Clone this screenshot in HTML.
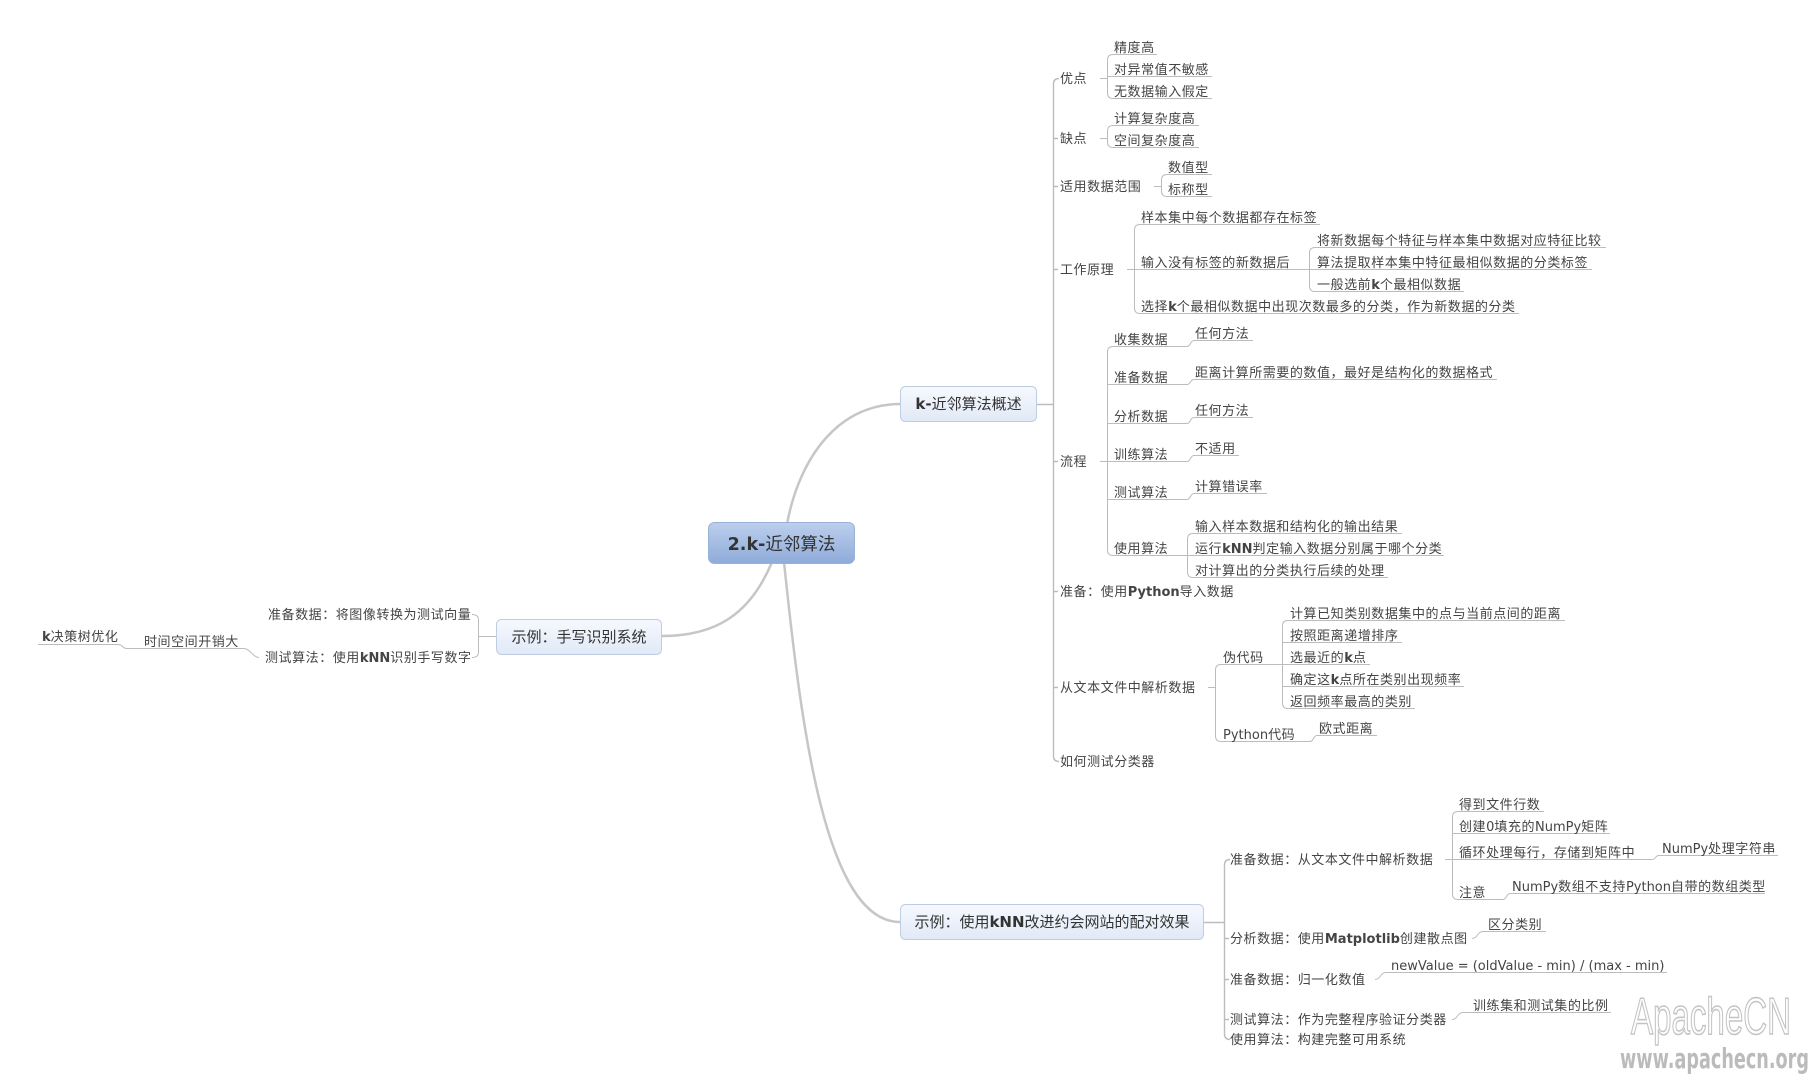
<!DOCTYPE html>
<html><head><meta charset="utf-8">
<style>
html,body{margin:0;padding:0;background:#fff;}
svg{display:block;}
.t{font-family:"DejaVu Sans","Noto Sans CJK SC",sans-serif;font-size:13px;fill:#444;letter-spacing:0.55px;}
.b{font-family:"DejaVu Sans","Noto Sans CJK SC",sans-serif;font-weight:bold;letter-spacing:0;}
.l{font-family:"DejaVu Sans","Noto Sans CJK SC",sans-serif;letter-spacing:0;}
.bx{font-family:"DejaVu Sans","Noto Sans CJK SC",sans-serif;font-size:15px;fill:#333;}
.ln{stroke:#bcbcbc;stroke-width:1;fill:none;}
.mc{stroke:#c6c6c6;stroke-width:2.5;fill:none;}
</style></head>
<body>
<svg width="1815" height="1085" viewBox="0 0 1815 1085" xmlns="http://www.w3.org/2000/svg">
<defs>
<linearGradient id="gc" x1="0" y1="0" x2="0" y2="1">
<stop offset="0" stop-color="#bccfec"/><stop offset="1" stop-color="#8fabda"/>
</linearGradient>
<linearGradient id="gb" x1="0" y1="0" x2="0" y2="1">
<stop offset="0" stop-color="#f6f9fe"/><stop offset="1" stop-color="#e1e9f7"/>
</linearGradient>
</defs>
<rect width="1815" height="1085" fill="#fff"/>

<!-- main curves -->
<path class="mc" d="M787,524 C800,455 840,404 900,404"/>
<path class="mc" d="M772,562 C750,615 715,636 662,636"/>
<path class="mc" d="M784,562 C801,725 825,922 900,922"/>

<!-- central node -->
<rect x="708.5" y="522.5" width="146" height="41" rx="6" fill="url(#gc)" stroke="#9ab1d8"/>
<text x="781.5" y="550" text-anchor="middle" style="font-family:'DejaVu Sans','Noto Sans CJK SC',sans-serif;font-size:17.5px;fill:#333;"><tspan font-weight="bold">2.k-</tspan>近邻算法</text>

<!-- branch boxes -->
<rect x="900.5" y="386.5" width="136" height="35" rx="5" fill="url(#gb)" stroke="#bfcde2"/>
<text class="bx" x="968.5" y="409" text-anchor="middle"><tspan font-weight="bold">k-</tspan>近邻算法概述</text>

<rect x="900.5" y="904.5" width="303" height="35" rx="5" fill="url(#gb)" stroke="#bfcde2"/>
<text class="bx" x="1052" y="927" text-anchor="middle">示例：使用<tspan font-weight="bold">kNN</tspan>改进约会网站的配对效果</text>

<rect x="496.5" y="619.5" width="165" height="35" rx="5" fill="url(#gb)" stroke="#bfcde2"/>
<text class="bx" x="579" y="642" text-anchor="middle">示例：手写识别系统</text>

<!-- ===== k-branch lines ===== -->
<path class="ln" style="stroke-width:1.4" d="M1037,404.5 H1053.5 M1059,78.5 Q1053.5,78.5 1053.5,84 V756 Q1053.5,761.5 1059,761.5 M1053.5,138.5 H1058 M1053.5,186.5 H1058 M1053.5,269.5 H1058 M1053.5,461.5 H1058 M1053.5,591.5 H1058 M1053.5,687.5 H1058"/>
<!-- 优点 -->
<path class="ln" d="M1100,78.5 H1107.5 M1107.5,60 Q1107.5,54.5 1113,54.5 H1157 M1107.5,60 V93 Q1107.5,98.5 1113,98.5 H1212 M1107.5,76.5 H1212"/>
<!-- 缺点 -->
<path class="ln" d="M1100,138.5 H1107.5 M1107.5,131 Q1107.5,125.5 1113,125.5 H1199 M1107.5,131 V142 Q1107.5,147.5 1113,147.5 H1199"/>
<!-- 适用数据范围 -->
<path class="ln" d="M1154,186.5 H1161.5 M1161.5,180 Q1161.5,174.5 1167,174.5 H1212 M1161.5,180 V191 Q1161.5,196.5 1167,196.5 H1212"/>
<!-- 工作原理 -->
<path class="ln" d="M1127,269.5 H1134.5 M1134.5,230 Q1134.5,224.5 1140,224.5 H1320 M1134.5,230 V308 Q1134.5,313.5 1140,313.5 H1519 M1134.5,269.5 H1309.5 M1309.5,253 Q1309.5,247.5 1315,247.5 H1606 M1309.5,253 V286 Q1309.5,291.5 1315,291.5 H1464 M1309.5,269.5 H1592"/>
<!-- 流程 -->
<path class="ln" d="M1100,461.5 H1107.5 M1107.5,352 Q1107.5,346.5 1113,346.5 H1187 M1107.5,352 V550 Q1107.5,555.5 1113,555.5 H1187 M1107.5,384.5 H1187 M1107.5,423.5 H1187 M1107.5,461.5 H1187 M1107.5,499.5 H1187
M1187,346.5 C1191,346.5 1190,340.5 1194,340.5 H1253
M1187,384.5 C1191,384.5 1190,379.5 1194,379.5 H1497
M1187,423.5 C1191,423.5 1190,417.5 1194,417.5 H1253
M1187,461.5 C1191,461.5 1190,455.5 1194,455.5 H1239
M1187,499.5 C1191,499.5 1190,493.5 1194,493.5 H1267
M1187.5,539 Q1187.5,533.5 1193,533.5 H1402 M1187.5,539 V572 Q1187.5,577.5 1193,577.5 H1388 M1187.5,555.5 H1444"/>
<!-- 从文本文件中解析数据 -->
<path class="ln" d="M1208,687.5 H1215.5 M1215.5,670 Q1215.5,664.5 1221,664.5 H1282.5 M1215.5,670 V736 Q1215.5,741.5 1221,741.5 H1310
M1310,741.5 C1314,741.5 1313,735.5 1317,735.5 H1377
M1282.5,626 Q1282.5,620.5 1288,620.5 H1565 M1282.5,626 V703 Q1282.5,708.5 1288,708.5 H1415 M1282.5,642.5 H1402 M1282.5,664.5 H1370 M1282.5,686.5 H1464"/>

<!-- ===== bottom branch lines ===== -->
<path class="ln" style="stroke-width:1.4" d="M1204,922.5 H1224.5 M1230,859.5 Q1224.5,859.5 1224.5,865 V1034 Q1224.5,1039.5 1230,1039.5 M1224.5,938.5 H1229 M1224.5,979.5 H1229 M1224.5,1019.5 H1229"/>
<path class="ln" d="M1445,859.5 H1452.5 M1452.5,817 Q1452.5,811.5 1458,811.5 H1544 M1452.5,817 V894 Q1452.5,899.5 1458,899.5 H1503 M1452.5,833.5 H1610 M1452.5,859.5 H1652
M1652,859.5 C1656,859.5 1655,855.5 1659,855.5 H1778
M1503,899.5 C1507,899.5 1506,893.5 1510,893.5 H1765
M1472,938.5 C1478,938.5 1477,931.5 1483,931.5 H1546
M1375,979.5 C1381,979.5 1380,972.5 1386,972.5 H1667
M1452,1019.5 C1458,1019.5 1457,1012.5 1463,1012.5 H1611"/>

<!-- ===== left branch lines ===== -->
<path class="ln" d="M496,636.5 H478.5 M472,614.5 Q478.5,614.5 478.5,620 V652 Q478.5,657.5 472,657.5
M259,657.5 C253,657.5 250,648.5 244,648.5 H127 C122,648.5 123,644.5 118,644.5 H38"/>

<!-- ===== k-branch texts ===== -->
<text class="t" x="1060" y="83">优点</text>
<text class="t" x="1060" y="143">缺点</text>
<text class="t" x="1060" y="191">适用数据范围</text>
<text class="t" x="1060" y="274">工作原理</text>
<text class="t" x="1060" y="466">流程</text>
<text class="t" x="1060" y="596">准备：使用<tspan class="b">Python</tspan>导入数据</text>
<text class="t" x="1060" y="692">从文本文件中解析数据</text>
<text class="t" x="1060" y="766">如何测试分类器</text>

<text class="t" x="1114" y="52">精度高</text>
<text class="t" x="1114" y="74">对异常值不敏感</text>
<text class="t" x="1114" y="96">无数据输入假定</text>
<text class="t" x="1114" y="123">计算复杂度高</text>
<text class="t" x="1114" y="145">空间复杂度高</text>
<text class="t" x="1168" y="172">数值型</text>
<text class="t" x="1168" y="194">标称型</text>
<text class="t" x="1141" y="222">样本集中每个数据都存在标签</text>
<text class="t" x="1141" y="267">输入没有标签的新数据后</text>
<text class="t" x="1141" y="311">选择<tspan class="b">k</tspan>个最相似数据中出现次数最多的分类，作为新数据的分类</text>
<text class="t" x="1317" y="245">将新数据每个特征与样本集中数据对应特征比较</text>
<text class="t" x="1317" y="267">算法提取样本集中特征最相似数据的分类标签</text>
<text class="t" x="1317" y="289">一般选前<tspan class="b">k</tspan>个最相似数据</text>

<text class="t" x="1114" y="344">收集数据</text>
<text class="t" x="1114" y="382">准备数据</text>
<text class="t" x="1114" y="421">分析数据</text>
<text class="t" x="1114" y="459">训练算法</text>
<text class="t" x="1114" y="497">测试算法</text>
<text class="t" x="1114" y="553">使用算法</text>
<text class="t" x="1195" y="338">任何方法</text>
<text class="t" x="1195" y="377">距离计算所需要的数值，最好是结构化的数据格式</text>
<text class="t" x="1195" y="415">任何方法</text>
<text class="t" x="1195" y="453">不适用</text>
<text class="t" x="1195" y="491">计算错误率</text>
<text class="t" x="1195" y="531">输入样本数据和结构化的输出结果</text>
<text class="t" x="1195" y="553">运行<tspan class="b">kNN</tspan>判定输入数据分别属于哪个分类</text>
<text class="t" x="1195" y="575">对计算出的分类执行后续的处理</text>

<text class="t" x="1223" y="662">伪代码</text>
<text class="t" x="1223" y="739"><tspan class="l">Python</tspan>代码</text>
<text class="t" x="1290" y="618">计算已知类别数据集中的点与当前点间的距离</text>
<text class="t" x="1290" y="640">按照距离递增排序</text>
<text class="t" x="1290" y="662">选最近的<tspan class="b">k</tspan>点</text>
<text class="t" x="1290" y="684">确定这<tspan class="b">k</tspan>点所在类别出现频率</text>
<text class="t" x="1290" y="706">返回频率最高的类别</text>
<text class="t" x="1319" y="733">欧式距离</text>

<!-- ===== bottom branch texts ===== -->
<text class="t" x="1230" y="864">准备数据：从文本文件中解析数据</text>
<text class="t" x="1230" y="943">分析数据：使用<tspan class="b">Matplotlib</tspan>创建散点图</text>
<text class="t" x="1230" y="984">准备数据：归一化数值</text>
<text class="t" x="1230" y="1024">测试算法：作为完整程序验证分类器</text>
<text class="t" x="1230" y="1044">使用算法：构建完整可用系统</text>

<text class="t" x="1459" y="809">得到文件行数</text>
<text class="t" x="1459" y="831">创建<tspan class="l">0</tspan>填充的<tspan class="l">NumPy</tspan>矩阵</text>
<text class="t" x="1459" y="857">循环处理每行，存储到矩阵中</text>
<text class="t" x="1459" y="897">注意</text>
<text class="t" x="1662" y="853"><tspan class="l">NumPy</tspan>处理字符串</text>
<text class="t" x="1512" y="891"><tspan class="l">NumPy</tspan>数组不支持<tspan class="l">Python</tspan>自带的数组类型</text>
<text class="t" x="1488" y="929">区分类别</text>
<text class="t" x="1391" y="970"><tspan class="l">newValue = (oldValue - min) / (max - min)</tspan></text>
<text class="t" x="1473" y="1010">训练集和测试集的比例</text>

<!-- ===== left branch texts ===== -->
<text class="t" x="268" y="619">准备数据：将图像转换为测试向量</text>
<text class="t" x="265" y="662">测试算法：使用<tspan class="b">kNN</tspan>识别手写数字</text>
<text class="t" x="144" y="646">时间空间开销大</text>
<text class="t" x="42" y="641"><tspan class="b">k</tspan>决策树优化</text>

<!-- watermark -->
<text x="1631" y="1034" font-family="Liberation Sans, sans-serif" font-size="52" fill="#ffffff" stroke="#c4c4c4" stroke-width="1.6" textLength="160" lengthAdjust="spacingAndGlyphs">ApacheCN</text>
<text x="1620" y="1068" font-family="DejaVu Sans, sans-serif" font-weight="bold" font-size="28" fill="#bbbbbb" textLength="189" lengthAdjust="spacingAndGlyphs">www.apachecn.org</text>
</svg>
</body></html>
